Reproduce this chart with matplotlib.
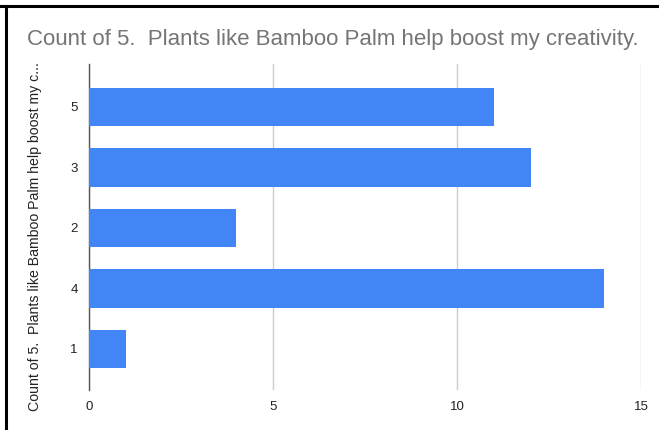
import matplotlib.pyplot as plt
from matplotlib.lines import Line2D

plt.rcParams['font.family'] = ['Liberation Sans', 'DejaVu Sans']

# Responses to question 5, in the order they appear top to bottom
answers = ['5', '3', '2', '4', '1']
counts = [11, 12, 4, 14, 1]

title = 'Count of 5.  Plants like Bamboo Palm help boost my creativity.'
ylabel = 'Count of 5.  Plants like Bamboo Palm help boost my c...'

fig = plt.figure(figsize=(6.59, 4.30), dpi=100)
ax = fig.add_axes([89 / 659, 1 - 390 / 430, (641 - 89) / 659, (390 - 64) / 430])

pos = list(range(len(answers)))
ax.barh(pos, counts, height=0.64, color='#4285f4', zorder=3)

ax.set_xlim(0, 15)
ax.set_ylim(4.68, -0.71)
ax.set_xticks([0, 5, 10, 15])
ax.set_yticks(pos)
ax.set_yticklabels(answers)
ax.tick_params(length=0, labelsize=9.5, colors='#222222', pad=8)
ax.tick_params(axis='y', pad=8)

ax.grid(axis='x', color='#cccccc', linewidth=1, zorder=0)
for s in ['top', 'right', 'bottom']:
    ax.spines[s].set_visible(False)
ax.spines['left'].set_color('#555555')
ax.spines['left'].set_linewidth(1)

fig.text(27 / 659, 1 - 40 / 430, title, fontsize=16, color='#757575',
         va='center', ha='left')
fig.text(35 / 659, 1 - 237 / 430, ylabel, fontsize=10.2, color='#222222',
         rotation=90, va='center', ha='center')

# black frame along the top and left edges
fig.add_artist(Line2D([0, 1], [1 - 6 / 430] * 2, color='black', linewidth=2.2,
                      transform=fig.transFigure))
fig.add_artist(Line2D([6 / 659] * 2, [0, 1 - 6 / 430], color='black', linewidth=2.2,
                      transform=fig.transFigure))

fig.savefig('out.png', dpi=100)
